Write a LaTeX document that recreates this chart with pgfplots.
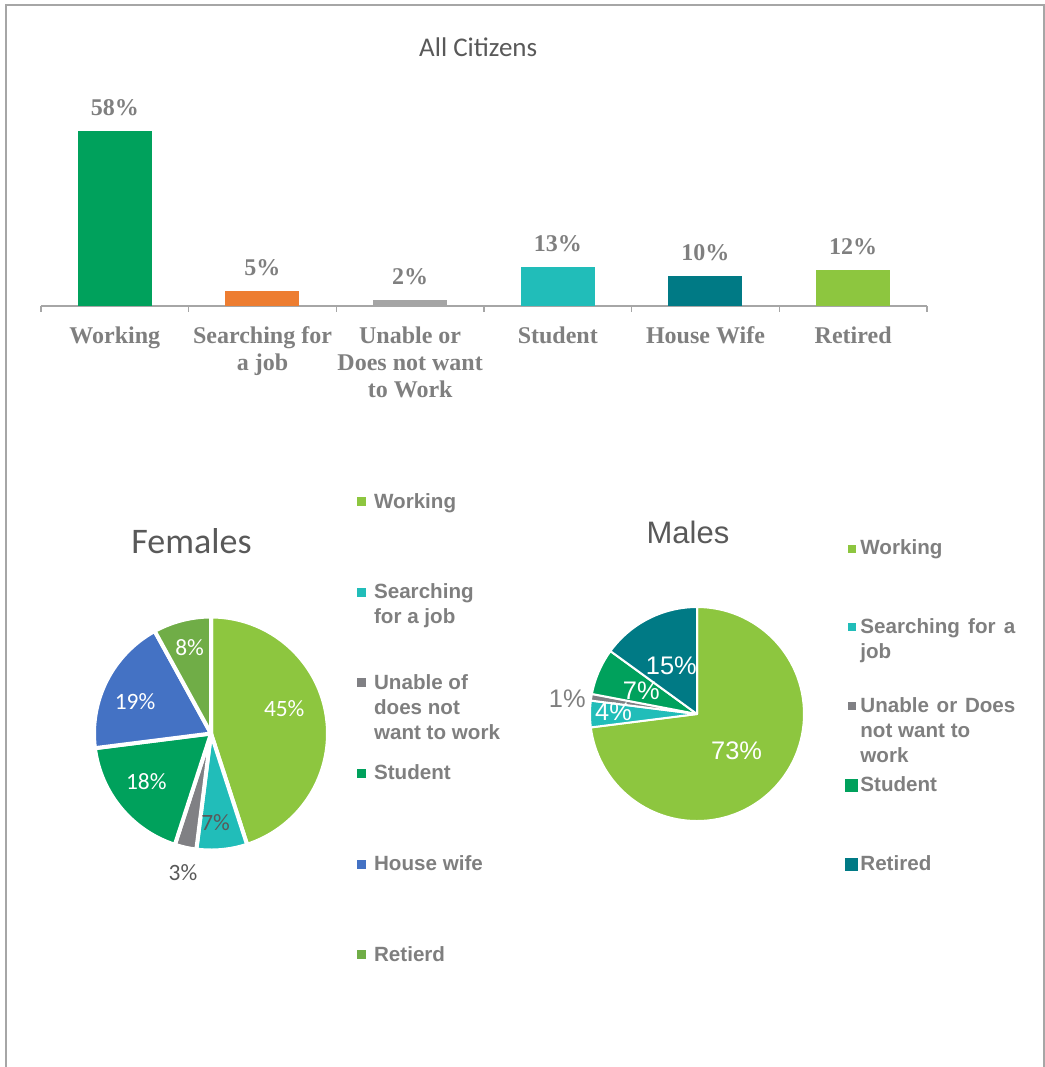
\documentclass[border=0pt]{standalone}
\usepackage{pgfplots}
\pgfplotsset{compat=1.18}
\usepackage{fontspec}
\setmainfont{Liberation Sans}
\newfontfamily\serifb{Liberation Serif}
\newfontfamily\calib{Carlito}
\newfontfamily\arialf{Liberation Sans}

\definecolor{cGreen}{RGB}{0,161,92}
\definecolor{cOrange}{RGB}{237,125,49}
\definecolor{cBGray}{RGB}{165,165,165}
\definecolor{cTeal}{RGB}{33,189,185}
\definecolor{cDTeal}{RGB}{0,122,133}
\definecolor{cLGreen}{RGB}{141,198,63}
\definecolor{cPGray}{RGB}{128,128,132}
\definecolor{cBlue}{RGB}{68,114,196}
\definecolor{cRet}{RGB}{112,173,71}
\definecolor{txtGray}{RGB}{127,127,127}
\definecolor{titleGray}{RGB}{89,89,89}
\definecolor{lblDark}{RGB}{89,89,89}
\definecolor{frameGray}{RGB}{166,166,166}

\newcommand\lent[1]{\raisebox{0pt}[8pt][0pt]{\vtop{#1}}}
\pgfplotsset{every axis title shift=0pt}

\begin{document}
\begin{tikzpicture}
\useasboundingbox (0,0) rectangle (522.5pt,-533.5pt);
\draw[frameGray, line width=1pt] (3pt,-533.5pt) -- (3pt,-2.5pt) -- (521.85pt,-2.5pt) -- (521.85pt,-533.5pt);

% ---------------- bar chart ----------------
\begin{axis}[
  at={(20.5pt,-153pt)}, anchor=south west,
  scale only axis, width=443pt, height=90.6pt,
  xmin=-0.5, xmax=5.5, ymin=0, ymax=60,
  axis x line=bottom, axis y line=none,
  x axis line style={-, draw=frameGray, line width=0.9pt},
  ytick=\empty,
  xtick={0,...,5},
  xticklabels={Working, {Searching for\\a job}, {Unable or\\Does not want\\to Work}, Student, House Wife, Retired},
  major tick length=0pt,
  minor xtick={-0.5,0.5,...,5.5},
  minor tick length=2.8pt,
  tick align=outside,
  every minor tick/.append style={draw=frameGray, line width=0.8pt},
  xticklabel style={align=center, font=\serifb\bfseries\fontsize{12}{13.5}\selectfont, text=txtGray, yshift=-7pt},
  title={All Citizens},
  title style={at={(0.4935,1.3758)}, anchor=base, font=\calib\fontsize{13.5}{16}\selectfont, text=titleGray},
  ybar, bar width=37pt, bar shift=0pt,
  /pgf/number format/assume math mode=true,
  nodes near coords={\pgfmathprintnumber{\pgfplotspointmeta}\%},
  every node near coord/.append style={font=\serifb\bfseries\fontsize{12}{14}\selectfont, text=txtGray, yshift=4pt},
  clip=false,
]
\addplot[fill=cGreen, draw=none, bar shift=0pt] coordinates {(0,58)};
\addplot[fill=cOrange, draw=none, bar shift=0pt] coordinates {(1,5)};
\addplot[fill=cBGray, draw=none, bar shift=0pt] coordinates {(2,2)};
\addplot[fill=cTeal, draw=none, bar shift=0pt] coordinates {(3,13)};
\addplot[fill=cDTeal, draw=none, bar shift=0pt] coordinates {(4,10)};
\addplot[fill=cLGreen, draw=none, bar shift=0pt] coordinates {(5,12)};
\end{axis}

% ---------------- Females pie ----------------
\begin{axis}[
  at={(105.5pt,-366.75pt)}, anchor=center,
  scale only axis, width=117pt, height=117pt,
  xmin=-1, xmax=1, ymin=-1, ymax=1,
  hide axis, clip=false,
  title={Females},
  title style={at={(0.4167,1.2714)}, anchor=base, font=\calib\fontsize{18}{22}\selectfont, text=titleGray},
  legend cell align=left,
  legend style={at={(1.1226,1.532)}, anchor=north west, draw=none, fill=none,
    inner sep=0pt, outer sep=0pt, row sep=35.8pt, column sep=4.3pt,
    font=\arialf\bfseries\fontsize{10.3}{12.5}\selectfont, text=txtGray,
    nodes={inner sep=0pt, outer sep=0pt}},
]
\addlegendimage{legend image code/.code={\fill[cLGreen] (0pt,-2pt) rectangle (4pt,2pt);}}
\addlegendentry{\lent{\hbox{Working}}}
\addlegendimage{legend image code/.code={\fill[cTeal] (0pt,-2pt) rectangle (4pt,2pt);}}
\addlegendentry{\lent{\hbox{Searching}\hbox{for a job}}}
\addlegendimage{legend image code/.code={\fill[cPGray] (0pt,-2pt) rectangle (4pt,2pt);}}
\addlegendentry{\lent{\hbox{Unable of}\hbox{does not}\hbox{want to work}}}
\addlegendimage{legend image code/.code={\fill[cGreen] (0pt,-2pt) rectangle (4pt,2pt);}}
\addlegendentry{\lent{\hbox{Student}}}
\addlegendimage{legend image code/.code={\fill[cBlue] (0pt,-2pt) rectangle (4pt,2pt);}}
\addlegendentry{\lent{\hbox{House wife}}}
\addlegendimage{legend image code/.code={\fill[cRet] (0pt,-2pt) rectangle (4pt,2pt);}}
\addlegendentry{\lent{\hbox{Retierd}}}
\pgfplotsextra{
  \gdef\pcum{0}
  \foreach \v/\col in {45/cLGreen, 7/cTeal, 3/cPGray, 18/cGreen, 19/cBlue, 8/cRet}{
    \pgfmathsetmacro\sa{90-3.6*\pcum}
    \pgfmathsetmacro\ea{\sa-3.6*\v}
    \filldraw[fill=\col, draw=white, line width=2pt, line join=round]
      (axis cs:0,0) -- ++(\sa:58.5pt) arc[start angle=\sa, end angle=\ea, radius=58.5pt] -- cycle;
    \pgfmathsetmacro\nc{\pcum+\v}
    \xdef\pcum{\nc}
  }
  \foreach \v/\la/\lr/\tc in {45/18.5/0.66/white, 7/-87/0.76/lblDark, 3/-101.4/1.21/lblDark,
      18/216.7/0.69/white, 19/157.5/0.703/white, 8/104/0.757/white}{
    \pgfmathsetmacro\rr{\lr*58.5}
    \path (axis cs:0,0) ++(\la:\rr pt) node[font=\calib\fontsize{11.7}{14}\selectfont, text=\tc]{\v\%};
  }
}
\end{axis}

% ---------------- Males pie ----------------
\begin{axis}[
  at={(348.5pt,-357pt)}, anchor=center,
  scale only axis, width=107pt, height=107pt,
  xmin=-1, xmax=1, ymin=-1, ymax=1,
  hide axis, clip=false,
  title={Males},
  title style={at={(0.458,1.299)}, anchor=base, font=\arialf\fontsize{15.5}{18}\selectfont, text=titleGray},
  legend cell align=left,
  legend style={at={(1.1916,1.318)}, anchor=north west, draw=none, fill=none,
    inner sep=0pt, outer sep=0pt, row sep=29.95pt, column sep=1.3pt,
    font=\arialf\bfseries\fontsize{10.3}{12.5}\selectfont, text=txtGray,
    nodes={inner sep=0pt, outer sep=0pt}},
]
\addlegendimage{legend image code/.code={\path (0pt,0pt) (6pt,0pt); \fill[cLGreen] (1.25pt,-1.75pt) rectangle (4.75pt,1.75pt);}}
\addlegendentry{\lent{\hbox{Working}}}
\addlegendimage{legend image code/.code={\path (0pt,0pt) (6pt,0pt); \fill[cTeal] (1.25pt,-1.75pt) rectangle (4.75pt,1.75pt);}}
\addlegendentry{\lent{\hbox to 77.5pt{Searching for a}\hbox{job}}}
\addlegendimage{legend image code/.code={\path (0pt,0pt) (6pt,0pt); \fill[cPGray] (1.25pt,-1.75pt) rectangle (4.75pt,1.75pt);}}
\addlegendentry{\lent{\hbox to 77.5pt{Unable or Does}\hbox{not want to}\hbox{work}}}
\addlegendimage{legend image code/.code={\fill[cGreen] (0pt,-3pt) rectangle (6pt,3pt);}}
\addlegendentry{\lent{\hbox{Student}}}
\addlegendimage{legend image code/.code={\fill[cDTeal] (0pt,-3pt) rectangle (6pt,3pt);}}
\addlegendentry{\lent{\hbox{Retired}}}
\pgfplotsextra{
  \gdef\pcum{0}
  \foreach \v/\col in {73/cLGreen, 4/cTeal, 1/cPGray, 7/cGreen, 15/cDTeal}{
    \pgfmathsetmacro\sa{90-3.6*\pcum}
    \pgfmathsetmacro\ea{\sa-3.6*\v}
    \filldraw[fill=\col, draw=white, line width=1pt, line join=round]
      (axis cs:0,0) -- ++(\sa:53.5pt) arc[start angle=\sa, end angle=\ea, radius=53.5pt] -- cycle;
    \pgfmathsetmacro\nc{\pcum+\v}
    \xdef\pcum{\nc}
  }
  \foreach \v/\la/\lr/\tc in {73/-42.8/0.505/white, 4/178.4/0.78/white, 1/173.4/1.22/txtGray,
      7/157.3/0.565/white, 15/118/0.51/white}{
    \pgfmathsetmacro\rr{\lr*53.5}
    \path (axis cs:0,0) ++(\la:\rr pt) node[font=\arialf\fontsize{12.7}{15}\selectfont, text=\tc]{\v\%};
  }
}
\end{axis}
\end{tikzpicture}
\end{document}
